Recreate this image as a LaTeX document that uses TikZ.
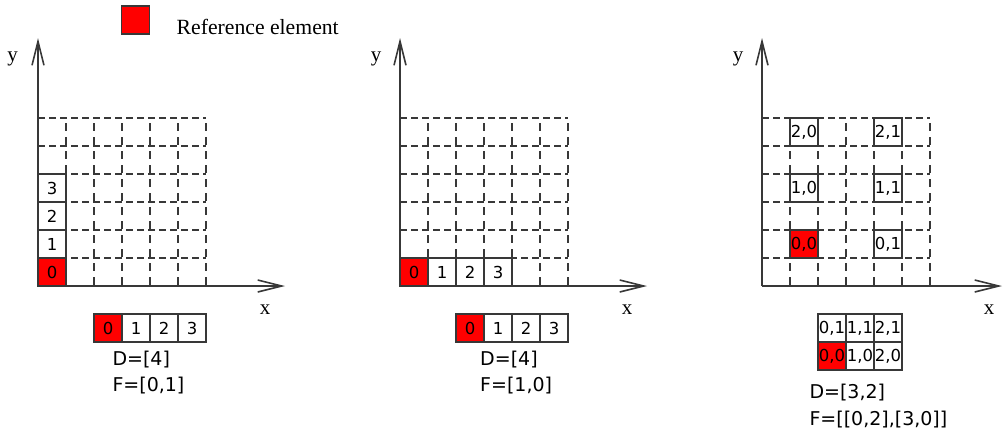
\documentclass[tikz,border=0pt]{standalone}
\usepackage{fontspec}
\setmainfont{Liberation Serif}
\newfontfamily\dv{DejaVu Sans}
\usetikzlibrary{arrows.meta}
\definecolor{ln}{RGB}{56,56,56}
\begin{document}
\begin{tikzpicture}[x=1pt,y=-1pt,
  axis/.style={draw=ln, line width=1.6pt, -{Straight Barb[length=24pt,width=12pt,line width=1.6pt]}},
  hdash/.style={draw=ln, line width=1.3pt, dash pattern=on 7pt off 4pt},
  vdash/.style={draw=ln, line width=1.3pt, dash pattern=on 7.5pt off 6.5pt, dash phase=8.6pt},
  cellbox/.style={draw=ln, line width=1.3pt, fill=white, minimum size=28pt, inner sep=0pt, outer sep=0pt, font=\dv\fontsize{16.5}{18}\selectfont},
  refcell/.style={cellbox, fill=red},
  lbl/.style={font=\fontsize{21}{23}\selectfont, inner sep=0pt},
  info/.style={font=\dv\fontsize{19}{21}\selectfont, anchor=base west, inner sep=0pt}
]
\useasboundingbox (0,0) rectangle (1003,432);

% legend
\node[refcell] (leg) at (135.5,20) {};
\node[lbl, anchor=base west, font=\fontsize{21.7}{23}\selectfont] (legt) at (176.5,34.3) {Reference element};

% ---------- panel 1 ----------
\foreach \k in {1,...,6} \draw[hdash] (38,{286-28*\k}) -- (206,{286-28*\k});
\foreach \k in {1,...,6} \draw[vdash] ({38+28*\k},118) -- ({38+28*\k},286);
\coordinate (o1) at (38,286);
\coordinate (y1) at (38,38);
\coordinate (x1) at (285,286);
\draw[axis] (o1) -- (y1);
\draw[axis] (o1) -- (x1);
\node[lbl, anchor=base] (ly1) at (12.5,61.5) {y};
\node[lbl, anchor=base] (lx1) at (265,314) {x};
\node[refcell] (p1c0) at (52,272) {0};
\node[cellbox] (p1c1) at (52,244) {1};
\node[cellbox] (p1c2) at (52,216) {2};
\node[cellbox] (p1c3) at (52,188) {3};
\node[refcell] (s1c0) at (108,328) {0};
\node[cellbox] (s1c1) at (136,328) {1};
\node[cellbox] (s1c2) at (164,328) {2};
\node[cellbox] (s1c3) at (192,328) {3};
\node[info] (d1) at (112.3,365) {D=[4]};
\node[info] (f1) at (112.3,391.7) {F=[0,1]};

% ---------- panel 2 ----------
\foreach \k in {1,...,6} \draw[hdash] (400,{286-28*\k}) -- (568,{286-28*\k});
\foreach \k in {1,...,6} \draw[vdash] ({400+28*\k},118) -- ({400+28*\k},286);
\coordinate (o2) at (400,286);
\coordinate (y2) at (400,38);
\coordinate (x2) at (647,286);
\draw[axis] (o2) -- (y2);
\draw[axis] (o2) -- (x2);
\node[lbl, anchor=base] (ly2) at (376,61.5) {y};
\node[lbl, anchor=base] (lx2) at (627,314) {x};
\node[refcell] (p2c0) at (414,272) {0};
\node[cellbox] (p2c1) at (442,272) {1};
\node[cellbox] (p2c2) at (470,272) {2};
\node[cellbox] (p2c3) at (498,272) {3};
\node[refcell] (s2c0) at (470,328) {0};
\node[cellbox] (s2c1) at (498,328) {1};
\node[cellbox] (s2c2) at (526,328) {2};
\node[cellbox] (s2c3) at (554,328) {3};
\node[info] (d2) at (480,365) {D=[4]};
\node[info] (f2) at (480,391.7) {F=[1,0]};

% ---------- panel 3 ----------
\foreach \k in {1,...,6} \draw[hdash] (762,{286-28*\k}) -- (930,{286-28*\k});
\foreach \k in {1,...,6} \draw[vdash] ({762+28*\k},118) -- ({762+28*\k},286);
\coordinate (o3) at (762,286);
\coordinate (y3) at (762,38);
\coordinate (x3) at (1002,286);
\draw[axis] (o3) -- (y3);
\draw[axis] (o3) -- (x3);
\node[lbl, anchor=base] (ly3) at (738,61.5) {y};
\node[lbl, anchor=base] (lx3) at (989,314) {x};
\node[refcell] (p3c00) at (804,244) {0,0};
\node[cellbox] (p3c01) at (888,244) {0,1};
\node[cellbox] (p3c10) at (804,188) {1,0};
\node[cellbox] (p3c11) at (888,188) {1,1};
\node[cellbox] (p3c20) at (804,132) {2,0};
\node[cellbox] (p3c21) at (888,132) {2,1};
\node[cellbox] (s3c01) at (832,328) {0,1};
\node[cellbox] (s3c11) at (860,328) {1,1};
\node[cellbox] (s3c21) at (888,328) {2,1};
\node[refcell] (s3c00) at (832,356) {0,0};
\node[cellbox] (s3c10) at (860,356) {1,0};
\node[cellbox] (s3c20) at (888,356) {2,0};
\node[info] (d3) at (809.3,398) {D=[3,2]};
\node[info] (f3) at (809.3,425) {F=[[0,2],[3,0]]};
\end{tikzpicture}
\end{document}
